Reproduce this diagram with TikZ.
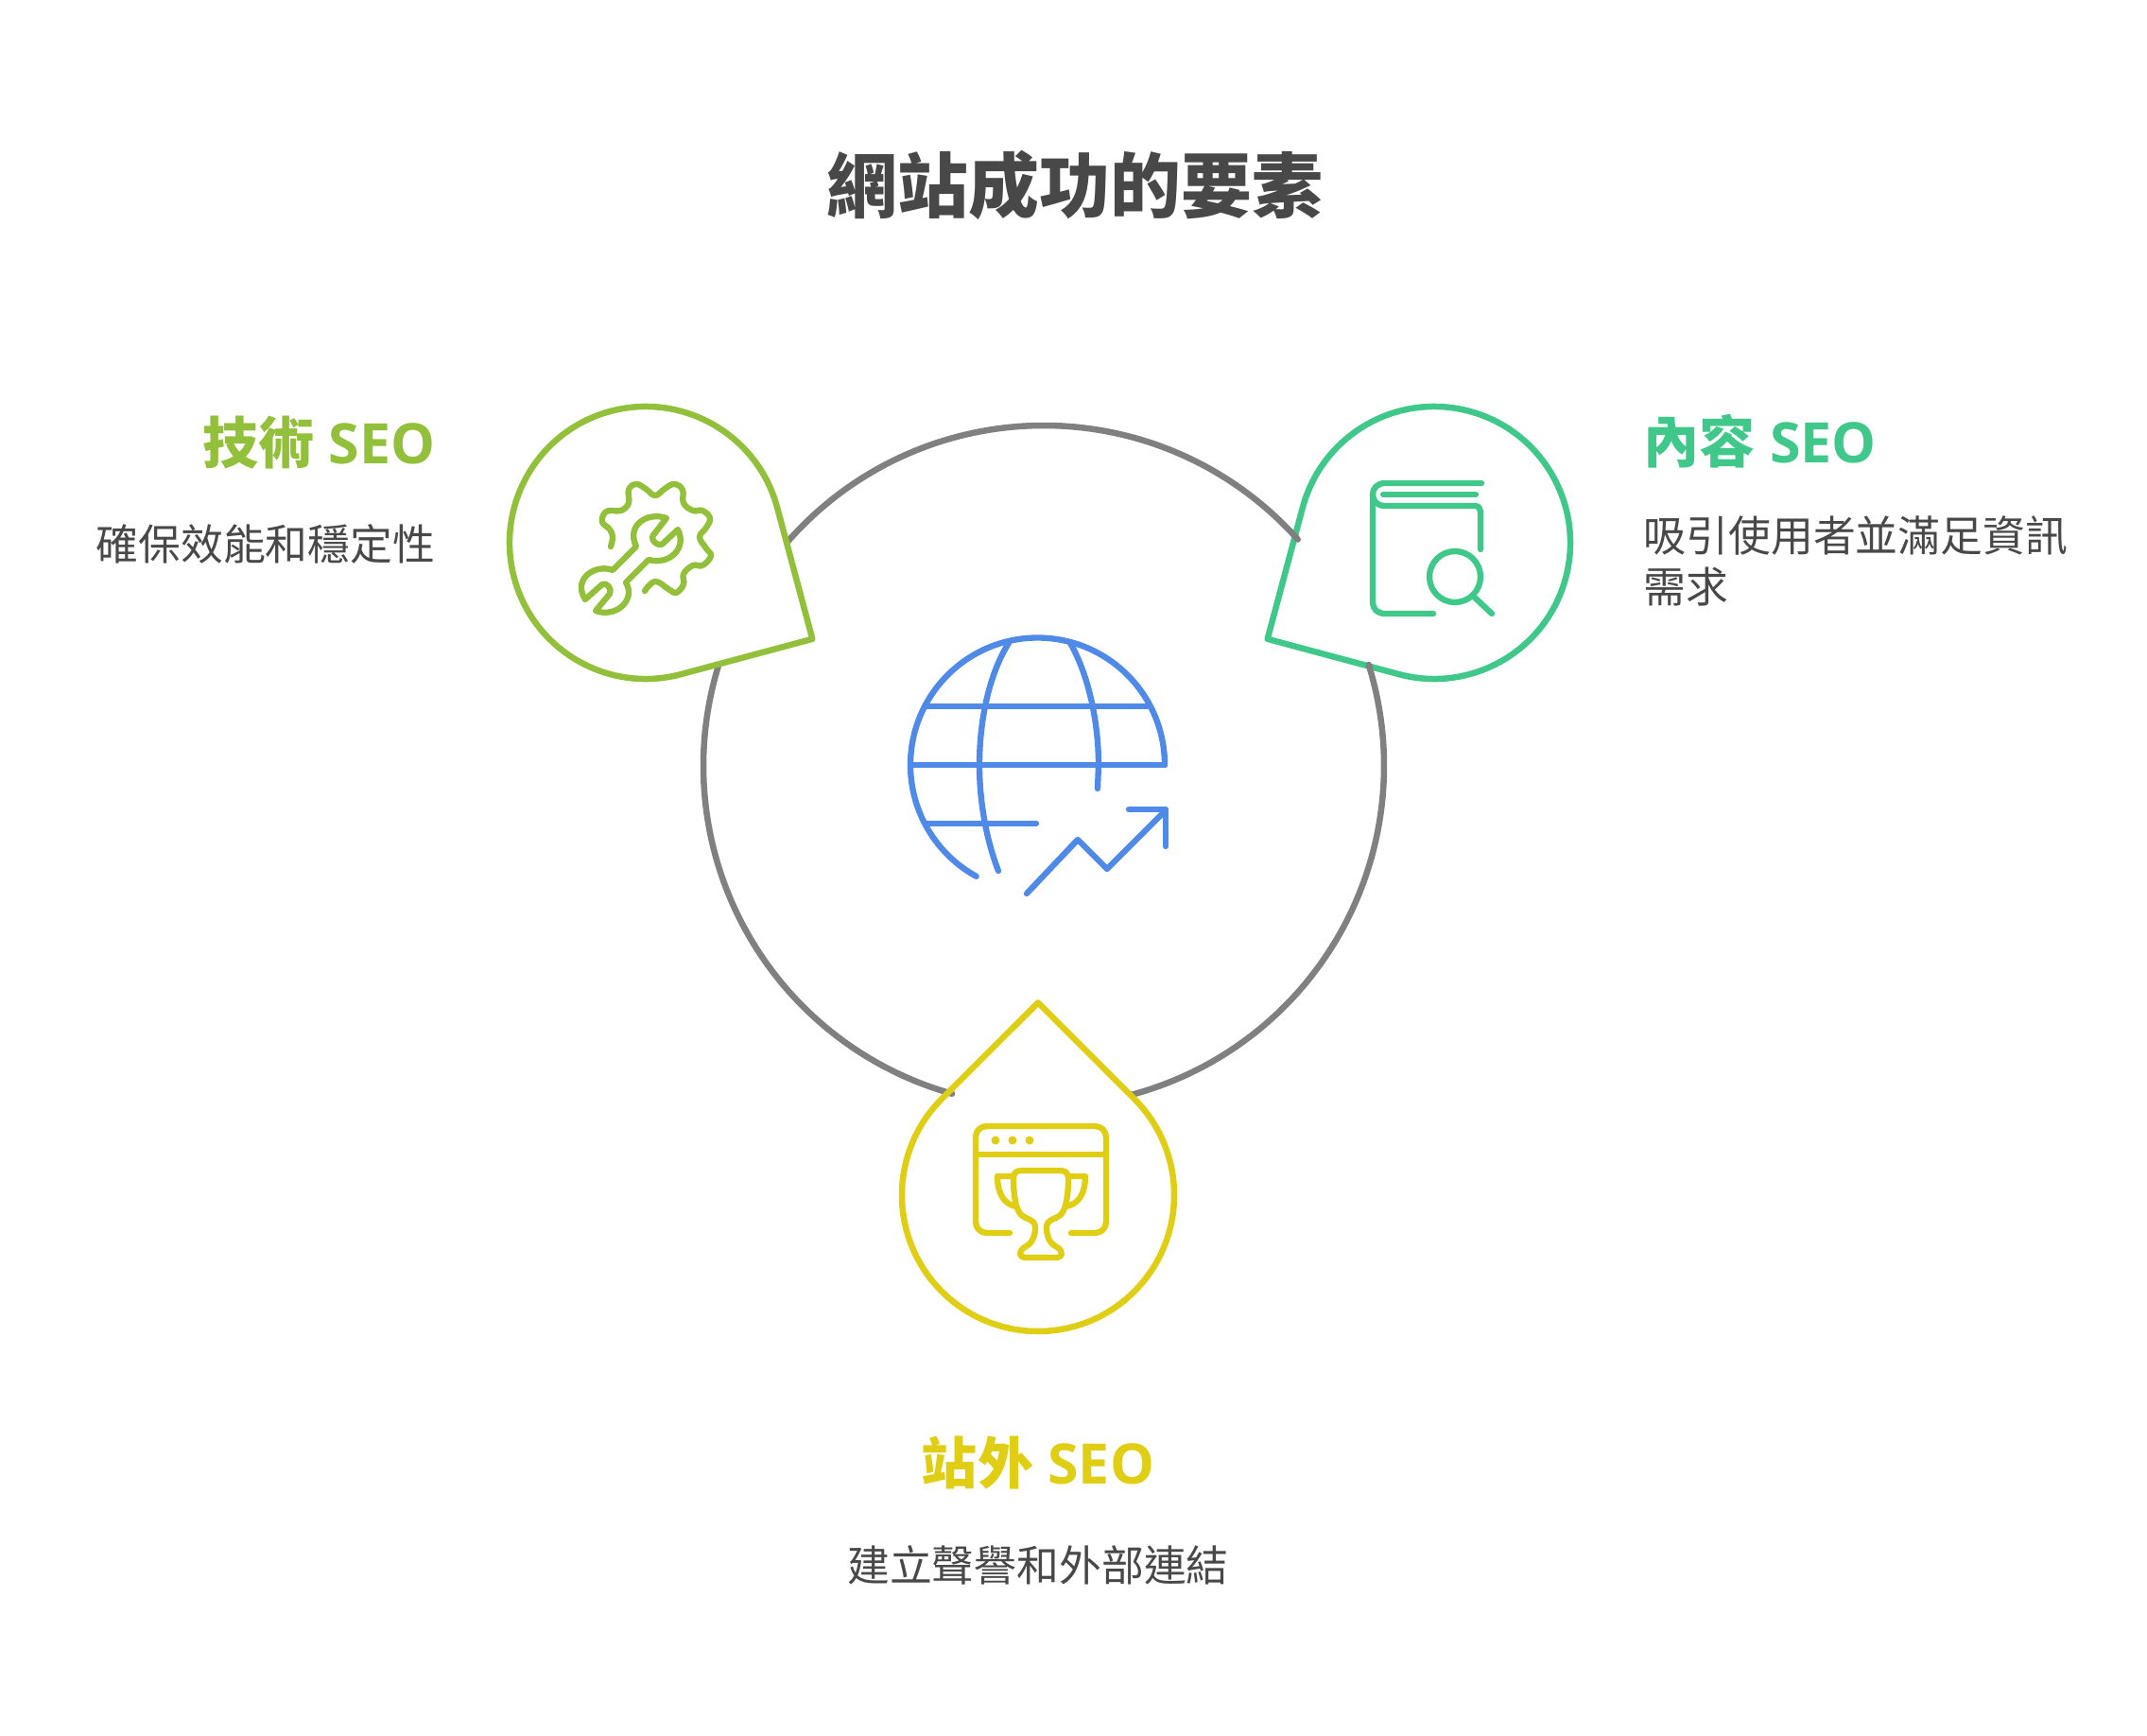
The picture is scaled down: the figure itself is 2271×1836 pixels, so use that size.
\documentclass[tikz,border=0pt]{standalone}
\usepackage{fontspec}
\setmainfont{Open Sans}
\newfontfamily\cjkfont{Noto Sans CJK TC}
\usetikzlibrary{calc}
\usepackage{xcolor}
\definecolor{seogreen}{RGB}{147,192,58}
\definecolor{seoteal}{RGB}{64,200,138}
\definecolor{seoyellow}{RGB}{224,206,21}
\definecolor{seoblue}{RGB}{79,138,232}
\definecolor{seogray}{RGB}{128,128,128}
\definecolor{seotext}{RGB}{72,72,72}
\tikzstyle{drop} = [line width=1.85pt,line join=round]
\tikzstyle{icon} = [line width=1.8pt,line cap=round,line join=round]
\tikzstyle{ring} = [line width=1.85pt,line cap=round,color=seogray]
\tikzstyle{heading} = [font=\fontsize{16.8pt}{20pt}\selectfont\bfseries,inner sep=0pt]
\tikzstyle{body} = [font=\fontsize{12.75pt}{15.6pt}\selectfont\cjkfont,color=seotext,inner sep=0pt]
\begin{document}
\begin{tikzpicture}[x=0.01cm,y=-0.01cm]
\useasboundingbox (0,0) rectangle (2271,1836);
\coordinate (hub) at (1104,810);
\coordinate (tech) at (683,574);
\coordinate (content) at (1517,574);
\coordinate (offsite) at (1098,1264);

% Teal drop
\draw[drop,seoteal] (content) ++(195:144) arc (195:465:144) -- ($(content)+(150:203.6)$) -- cycle;

% Outer ring pieces
\draw[ring] (hub) ++(221.5:360) arc (221.5:318.3:360);
\draw[ring] (hub) ++(-17.3:360) arc (-17.3:75:360);
\draw[ring] (hub) ++(105.6:360) arc (105.6:196.9:360);

% Green and yellow drops
\draw[drop,seogreen] (tech) ++(75:144) arc (75:345:144) -- ($(tech)+(30:203.6)$) -- cycle;
\draw[drop,seoyellow] (offsite) ++(315:144) arc (315:585:144) -- ($(offsite)+(270:203.6)$) -- cycle;

% Globe
\begin{scope}[icon,seoblue]
\draw (1232,809) arc (360:118.8:134.5);
\draw (963,809) -- (1232,809);
\draw (980,747) -- (1215,747);
\draw (980,871) -- (1096,871);
\draw (1067,680) .. controls (1045,715) and (1036,765) .. (1036,809) .. controls (1036,850) and (1044,890) .. (1056,921);
\draw (1132,680) .. controls (1152,715) and (1162,765) .. (1162,809) -- (1161,834);
\draw (1086,945) -- (1140,888) -- (1171,919) -- (1233,857);
\draw (1194,856) -- (1233,856) -- (1233,895);
\end{scope}

% Gear and wrench
\begin{scope}[icon,seogreen]
\draw plot[smooth,tension=0.7] coordinates {(646,578) (648,568) (645,560) (637,552) (640,542) (647,540) (657,540) (665,532) (665,518) (673,512) (683,517) (693,524) (703,517) (713,512) (722,518) (723,532) (733,540) (743,540) (751,548) (747,558) (740,568) (747,580) (752,588) (743,598) (733,598) (723,607) (723,618) (715,627) (707,623) (693,615) (682,625)};
\draw (705,548) .. controls (685,541) and (662,555) .. (673,578) -- (648,603) .. controls (630,596) and (605,612) .. (619,634) -- (637,618) .. controls (641,615) and (648,623) .. (645,628) -- (630,646) .. controls (652,654) and (673,634) .. (662,616) -- (686,592) .. controls (708,598) and (727,580) .. (717,560) -- (701,575) .. controls (697,579) and (687,571) .. (691,566) -- cycle;
\end{scope}

% Book and lens
\begin{scope}[icon,seoteal]
\draw (1567,511) -- (1465,511) .. controls (1457,511) and (1452,516) .. (1452,523) -- (1452,637) .. controls (1452,644) and (1457,649) .. (1465,649) -- (1516,649);
\draw (1463,523) -- (1561,523);
\draw (1452,523) .. controls (1452,530) and (1457,535) .. (1465,535) -- (1560,535) .. controls (1564,535) and (1566,538) .. (1566,541) -- (1566,581);
\draw (1539,610) circle (27);
\draw (1560,632) -- (1578,649);
\end{scope}

% Window and cup
\begin{scope}[icon,seoyellow]
\draw (1068,1304) -- (1044,1304) .. controls (1037,1304) and (1032,1299) .. (1032,1292) -- (1032,1203) .. controls (1032,1196) and (1037,1191) .. (1044,1191) -- (1158,1191) .. controls (1165,1191) and (1170,1196) .. (1170,1203) -- (1170,1292) .. controls (1170,1299) and (1165,1304) .. (1158,1304) -- (1133,1304);
\draw (1032,1221) -- (1170,1221);
\fill (1053,1206) circle (4.5);
\fill (1071,1206) circle (4.5);
\fill (1089,1206) circle (4.5);
\draw (1080,1238) -- (1122,1238) .. controls (1128,1238) and (1130,1242) .. (1130,1246) .. controls (1130,1262) and (1128,1276) .. (1124,1282) .. controls (1120,1290) and (1107,1288) .. (1107,1298) .. controls (1107,1310) and (1112,1316) .. (1118,1319) .. controls (1125,1323) and (1124,1330) .. (1118,1330) -- (1084,1330) .. controls (1078,1330) and (1077,1323) .. (1084,1319) .. controls (1090,1316) and (1095,1310) .. (1095,1298) .. controls (1095,1288) and (1082,1290) .. (1078,1282) .. controls (1074,1276) and (1072,1262) .. (1072,1246) .. controls (1072,1242) and (1074,1238) .. (1080,1238) -- cycle;
\draw (1072,1244) -- (1055,1244) .. controls (1055,1262) and (1062,1274) .. (1075,1276);
\draw (1130,1244) -- (1148,1244) .. controls (1148,1262) and (1141,1274) .. (1127,1276);
\end{scope}

% Labels
\node[font=\fontsize{21.3pt}{26pt}\selectfont\bfseries\cjkfont,color=seotext,inner sep=0pt] (title) at (1137,196) {網站成功的要素};
\node[heading,color=seogreen,anchor=east] (techhead) at (461,468) {{\cjkfont 技術} SEO};
\node[body,anchor=east] (techbody) at (461,575) {確保效能和穩定性};
\node[heading,color=seoteal,anchor=west] (contenthead) at (1738,467) {{\cjkfont 內容} SEO};
\node[body,anchor=west] (contentbodya) at (1738,566) {吸引使用者並滿足資訊};
\node[body,anchor=west] (contentbodyb) at (1738,621) {需求};
\node[heading,color=seoyellow] (offsitehead) at (1098,1547) {{\cjkfont 站外} SEO};
\node[body] (offsitebody) at (1098,1655) {建立聲譽和外部連結};
\end{tikzpicture}
\end{document}
